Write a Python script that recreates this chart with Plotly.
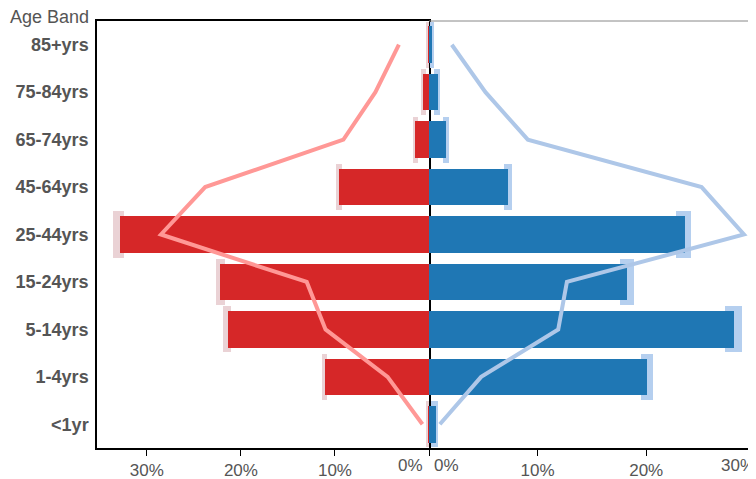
import plotly.graph_objects as go

# the page body adds an 8px offset, so the figure is 8px smaller than the window
W, H = 748, 471

age_bands = ['<1yr', '1-4yrs', '5-14yrs', '15-24yrs', '25-44yrs', '45-64yrs', '65-74yrs', '75-84yrs', '85+yrs']
pct_ticks = [0, 10, 20, 30]
# the 0% labels and the right-hand 30% label are placed by hand, off their ticks
left_labels = ['', '10%', '20%', '30%']
right_labels = ['', '10%', '20%', '']

# left (red) side, percent
left_vals = [0.1, 11.1, 21.4, 22.2, 32.9, 9.6, 1.5, 0.6, 0.1]
left_lo = [0.0, 10.8, 21.0, 21.7, 32.4, 9.3, 1.2, 0.3, 0.0]
left_hi = [0.3, 11.4, 21.9, 22.7, 33.6, 9.9, 1.7, 0.9, 0.3]
left_ref = [0.7, 4.4, 11.0, 13.0, 28.5, 23.8, 9.1, 5.7, 3.2]

# right (blue) side, percent
right_vals = [0.6, 20.1, 28.1, 18.2, 23.6, 7.3, 1.6, 0.8, 0.3]
right_lo = [0.2, 19.5, 27.3, 17.6, 22.7, 6.9, 1.3, 0.5, 0.1]
right_hi = [0.8, 20.6, 28.8, 18.9, 24.1, 7.6, 1.8, 1.0, 0.5]
right_ref = [1.0, 4.8, 11.9, 12.7, 29.0, 25.1, 9.1, 5.2, 2.1]

RED, BLUE = '#d62728', '#1f77b4'
RED_LT, BLUE_LT = '#ff9896', '#aec7e8'
RED_ERR, BLUE_ERR = '#ead2d5', '#b5cfef'
GREY = '#555555'
FONT = 'Liberation Sans, Arial'

fig = go.Figure()

# error ranges drawn as wide light bars behind the main bars
fig.add_trace(go.Bar(y=age_bands, x=[h - l for l, h in zip(left_lo, left_hi)], base=left_lo,
                     orientation='h', width=0.97, marker=dict(color=RED_ERR, line_width=0),
                     xaxis='x', yaxis='y', hoverinfo='skip'))
fig.add_trace(go.Bar(y=age_bands, x=left_vals, orientation='h', width=0.77,
                     marker=dict(color=RED, line_width=0), xaxis='x', yaxis='y'))
fig.add_trace(go.Scatter(y=age_bands, x=left_ref, mode='lines',
                         line=dict(color=RED_LT, width=4), xaxis='x', yaxis='y'))

fig.add_trace(go.Bar(y=age_bands, x=[h - l for l, h in zip(right_lo, right_hi)], base=right_lo,
                     orientation='h', width=0.97, marker=dict(color=BLUE_ERR, line_width=0),
                     xaxis='x2', yaxis='y2', hoverinfo='skip'))
fig.add_trace(go.Bar(y=age_bands, x=right_vals, orientation='h', width=0.77,
                     marker=dict(color=BLUE, line_width=0), xaxis='x2', yaxis='y2'))
fig.add_trace(go.Scatter(y=age_bands, x=right_ref, mode='lines',
                         line=dict(color=BLUE_LT, width=4), xaxis='x2', yaxis='y2'))

ML, MR, MT, MB = 89, 1, 13, 31
PW, PH = W - ML - MR, H - MT - MB
x_mid = 332 / PW

tick_font = dict(family=FONT, size=17, color=GREY)

fig.update_layout(
    width=W, height=H, autosize=False,
    margin=dict(l=ML, r=MR, t=MT, b=MB, pad=0),
    plot_bgcolor='white', paper_bgcolor='white',
    barmode='overlay', showlegend=False, bargap=0,
    xaxis=dict(domain=[0, x_mid], range=[35.3, 0], tickvals=pct_ticks, ticktext=left_labels,
               showgrid=False, zeroline=False, showline=True,
               linecolor='black', linewidth=1.5, mirror=True, ticks='outside',
               ticklen=6, tickcolor='black', tickfont=tick_font, automargin=False),
    xaxis2=dict(domain=[x_mid, 1], range=[0, 30.02], tickvals=pct_ticks, ticktext=right_labels,
                showgrid=False, zeroline=False, showline=True,
                linecolor='black', linewidth=1.5, ticks='outside', ticklen=6,
                tickcolor='black', tickfont=tick_font, anchor='y2', automargin=False),
    yaxis=dict(domain=[0, 1], categoryorder='array', categoryarray=age_bands,
               range=[-0.5, 8.5], showgrid=False, zeroline=False, showline=True,
               linecolor='black', linewidth=1.5, mirror=True, ticks='', ticklabelstandoff=3,
               tickfont=dict(family=FONT, size=18, color=GREY, weight='bold'),
               anchor='x', automargin=False),
    yaxis2=dict(domain=[0, 1], categoryorder='array', categoryarray=age_bands,
                range=[-0.5, 8.5], showgrid=False, zeroline=False, showticklabels=False,
                anchor='x2', automargin=False),
    shapes=[dict(type='line', xref='paper', yref='paper', x0=x_mid, x1=1.0,
                 y0=1, y1=1, line=dict(color='#888888', width=1))],
    annotations=[
        dict(text='Age Band', xref='paper', yref='paper', x=-ML / PW, y=1 + MT / PH,
             xanchor='left', yanchor='top', yshift=3, showarrow=False,
             font=dict(family=FONT, size=18, color=GREY)),
        dict(text='0%', xref='x', yref='paper', x=0, y=0, xanchor='right', yanchor='top',
             xshift=-4, yshift=-6, showarrow=False, font=tick_font),
        dict(text='0%', xref='x2', yref='paper', x=0, y=0, xanchor='left', yanchor='top',
             xshift=3, yshift=-6, showarrow=False, font=tick_font),
        dict(text='30%', xref='x2', yref='paper', x=30, y=0, xanchor='right', yanchor='top',
             xshift=2, yshift=-6, showarrow=False, font=tick_font),
    ],
)

fig.write_html("out.html")
